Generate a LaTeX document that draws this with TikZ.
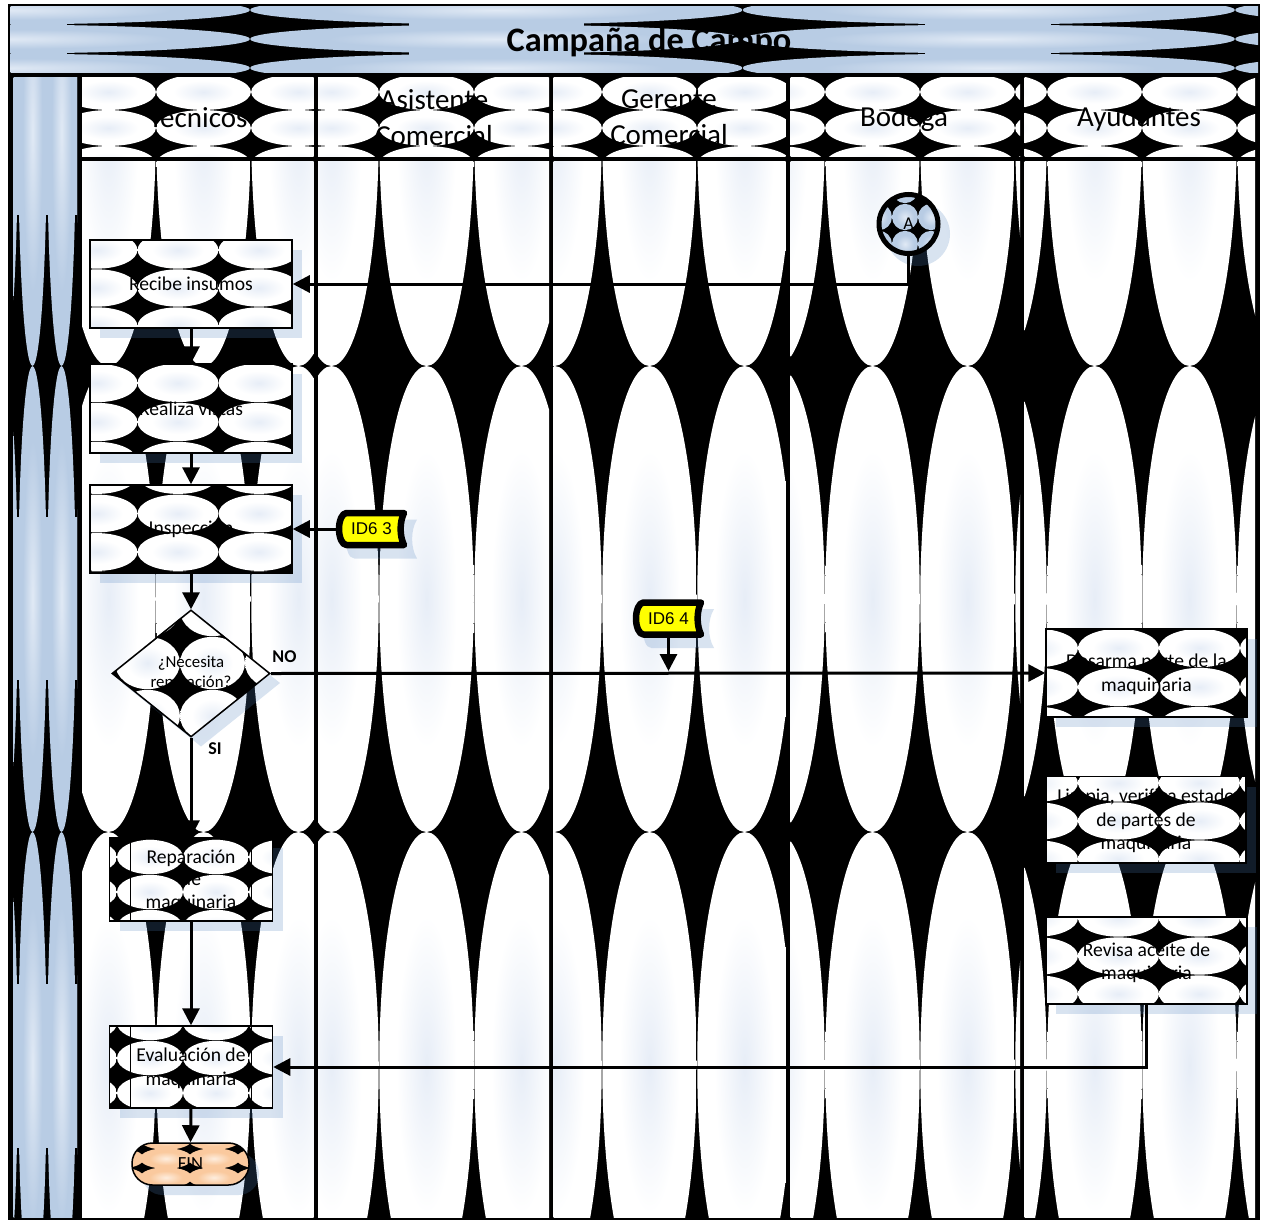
\documentclass[tikz,border=0pt]{standalone}
\usepackage{fontspec}
\setmainfont{Carlito}
\newfontfamily\tagfont{Liberation Sans}
\usetikzlibrary{arrows.meta,shapes.geometric}
\definecolor{bandblue}{HTML}{B8CCE4}
\definecolor{accentblue}{HTML}{4F81BD}
\definecolor{tagyellow}{HTML}{FFFF00}
\pgfdeclareradialshading{softblob}{\pgfpoint{0bp}{0bp}}{rgb(0bp)=(0.905,0.93,0.968); rgb(16bp)=(1,1,1); rgb(50bp)=(1,1,1)}
\pgfdeclareradialshading{blueblob}{\pgfpoint{0bp}{0bp}}{rgb(0bp)=(0.88,0.915,0.96); rgb(17bp)=(0.722,0.8,0.894); rgb(50bp)=(0.722,0.8,0.894)}
\pgfdeclareradialshading{orangeblob}{\pgfpoint{0bp}{0bp}}{rgb(0bp)=(0.995,0.93,0.87); rgb(16bp)=(0.98,0.79,0.62); rgb(50bp)=(0.98,0.79,0.62)}
\def\tgx{0.05}\def\tgy{0.35}
\newcommand\tiles[7]{%
  \pgfmathsetmacro\tlrx{#3/2-\tgx}\pgfmathsetmacro\tlry{#4/2-\tgy}%
  \foreach \i in {0,...,#5}{\foreach \j in {0,...,#6}{%
    \shade[shading=#7] ({#1+\i*#3},{#2+\j*#4}) ellipse [x radius=\tlrx pt,y radius=\tlry pt];}}}
% x1 y1 x2 y2 | first centre x, y, dx, dy
\newcommand\boxtile[8]{%
  \fill[shadowfill] ({#1+10},{#2+10}) rectangle ({#3+10},{#4+10});
  \begin{scope}\clip (#1,#2) rectangle (#3,#4);
    \fill[black] (#1,#2) rectangle (#3,#4);
    \tiles{#5}{#6}{#7}{#8}{3}{3}{softblob}
  \end{scope}}
\newcommand\lanetile[4]{% x1 x2 first-centre nx
  \begin{scope}\clip (#1,78) rectangle (#2,156);
    \def\tgx{0.1}\def\tgy{0.05}
    \tiles{#3}{92}{95}{36}{#4}{2}{softblob}
  \end{scope}
  \begin{scope}\clip (#1,161) rectangle (#2,1217);
    \def\tgx{0.25}\def\tgy{0}
    \tiles{#3}{133}{95}{466}{#4}{2}{softblob}
  \end{scope}}
\newcommand\tagshape[2]{% centre
  \fill[shadowfill,shift={(#1+10,#2+10)}] (-27,-19.5) .. controls (-33,-19.5) and (-35.5,-10) .. (-35.5,0) .. controls (-35.5,10) and (-33,19.5) .. (-27,19.5) -- (35.5,19.5) .. controls (29,9) and (29,-9) .. (35.5,-19.5) -- cycle;
  \draw[line width=6.5pt,fill=tagyellow,line join=round,shift={(#1,#2)}] (-25,-16) .. controls (-29.5,-16) and (-32.5,-8) .. (-32.5,0) .. controls (-32.5,8) and (-29.5,16) .. (-25,16) -- (32.5,16) .. controls (28,7) and (28,-7) .. (32.5,-16) -- cycle;}
\newcommand\topstrut[1]{\rule{0pt}{#1pt}}
\tikzset{
  shadowfill/.style={fill=accentblue,fill opacity=0.22},
  boxtext/.style={font=\fontsize{19.6}{23.5}\selectfont,align=center,inner sep=0pt,text=black},
  flowbox/.style={boxtext,draw=black,line width=1.5pt,shape=rectangle},
  lanehead/.style={font=\fontsize{29}{36}\selectfont,align=center,inner sep=0pt},
  edgelabel/.style={font=\fontsize{18}{20}\bfseries\selectfont,inner sep=0pt},
  tagtext/.style={font=\tagfont\fontsize{17}{20}\selectfont,inner sep=0pt,minimum width=68pt,minimum height=36pt},
  flow/.style={line width=3pt,-{Triangle[length=17pt,width=17pt]}}
}
\begin{document}
\begin{tikzpicture}[x=1pt,y=-1pt]
\useasboundingbox (0,0) rectangle (1266,1220);
\fill[white] (0,0) rectangle (1266,1220);
\fill[black] (8,4) rectangle (1260,1220);
% title band
\begin{scope}\clip (10.5,7) rectangle (1258,73);
  \def\tgx{0.1}\def\tgy{0.15}
  \tiles{3.75}{10}{492.5}{29}{3}{2}{blueblob}
  \fill[bandblue] (-10,22) rectangle (67,27);
  \fill[bandblue] (-10,51) rectangle (67,56);
  \fill[bandblue] (409,22) rectangle (584,27);
  \fill[bandblue] (409,51) rectangle (584,56);
  \fill[bandblue] (925,22) rectangle (1051,27);
  \fill[bandblue] (925,51) rectangle (1051,56);
\end{scope}
\node[font=\fontsize{34.3}{40}\bfseries\selectfont,inner sep=0pt] (title) at (649,42.5) {Campaña de Campo};
% left vertical band
\begin{scope}\clip (13.5,78) rectangle (77,1217);
  \def\tgx{0.15}\def\tgy{0.1}
  \tiles{3.5}{133}{29}{466}{3}{2}{blueblob}
  \foreach \sx in {18,47,76}{
    \fill[bandblue] (\sx-3,70) rectangle (\sx+3,215);
    \fill[bandblue] (\sx-3,517) rectangle (\sx+3,680);
    \fill[bandblue] (\sx-3,984) rectangle (\sx+3,1148);
  }
\end{scope}
% lanes
\lanetile{82}{313.5}{108.5}{2}
\lanetile{318}{549}{331.5}{2}
\lanetile{553.5}{785.5}{554.5}{2}
\lanetile{790.5}{1020}{777.5}{3}
\lanetile{1024.5}{1255}{999.5}{3}
\node[lanehead] (hTecnicos) at (198,118) {Tecnicos};
\node[lanehead] (hAsistente) at (434,117.5) {Asistente\\Comercial};
\node[lanehead] (hGerente) at (669,117.5) {Gerente\\Comercial};
\node[lanehead] (hBodega) at (904,119) {Bodega};
\node[lanehead] (hAyudantes) at (1139,119) {Ayudantes};
% connector A start
\fill[shadowfill] (918,234) circle (32);
\begin{scope}\clip (908.5,224) circle (29.5);
  \fill[black] (870,190) rectangle (950,260);
  \tiles{879}{190}{26}{27}{2}{2}{blueblob}
\end{scope}
\node[circle,draw=black,line width=5pt,minimum size=59pt,inner sep=0pt,font=\fontsize{18}{20}\selectfont] (conA) at (908.5,224) {A};
% Recibe
\boxtile{90}{240}{292}{328}{97}{250}{81}{38}
\node[flowbox,minimum width=202pt,minimum height=88pt] (recibe) at (191,284) {Recibe insumos};
% Realiza
\boxtile{90}{364}{292}{453}{97}{344}{81}{39}
\node[flowbox,minimum width=202pt,minimum height=89pt] (realiza) at (191,408.5) {Realiza vistas};
% Inspeccion
\boxtile{90}{485}{292}{573}{97}{475}{81}{38.5}
\node[flowbox,minimum width=202pt,minimum height=88pt] (inspeccion) at (191,529) {Inspección};
% Tag 3
\tagshape{371.5}{529}
\node[tagtext] (id63) at (371.5,529) {ID6 3};
% Tag 4
\tagshape{668.5}{618.5}
\node[tagtext] (id64) at (668.5,618.5) {ID6 4};
% Diamond
\fill[shadowfill] (122,683) -- (201,619.5) -- (280,683) -- (201,746.5) -- cycle;
\begin{scope}\clip (112,673) -- (191,609.5) -- (270,673) -- (191,736.5) -- cycle;
  \fill[black] (110,605) rectangle (272,740);
  \tiles{82.5}{610}{65}{53}{3}{2}{softblob}
\end{scope}
\node[diamond,draw=black,line width=1.5pt,minimum width=158pt,minimum height=127pt,inner sep=0pt,aspect=1,align=center,font=\fontsize{16.8}{20}\selectfont] (decision) at (191,673.5) {¿Necesita\\reparación?};
\node[edgelabel] (labelNO) at (284.5,656.5) {NO};
\node[edgelabel] (labelSI) at (215,748.5) {SI};
% Desarma
\boxtile{1046}{629}{1247}{717}{1037.5}{609}{81}{39}
\node[flowbox,minimum width=201pt,minimum height=88pt] (desarma) at (1146.5,673) {\topstrut{16}Desarma parte de la\\maquinaria};
% Limpia
\boxtile{1046}{776.5}{1246}{863}{1037.5}{783}{81}{38}
\node[flowbox,minimum width=200pt,minimum height=86.5pt] (limpia) at (1146,819.75) {\topstrut{16}Limpia, verifica estado\\de partes de\\maquinaria};
% Revisa
\boxtile{1046}{917}{1247}{1004}{1037.5}{918}{81}{38}
\node[flowbox,minimum width=201pt,minimum height=87pt] (revisa) at (1146.5,960.5) {\topstrut{18}Revisa aceite de\\maquinaria};
% Reparacion
\boxtile{109.5}{838}{272.5}{921}{84}{822}{66}{35}
\draw[line width=1.3pt] (130.5,838) -- (130.5,921) (251.5,838) -- (251.5,921);
\node[flowbox,minimum width=163pt,minimum height=83pt,font=\fontsize{19.6}{22.7}\selectfont] (reparacion) at (191,879.5) {\topstrut{16}Reparación\\de\\maquinaria};
% Evaluacion
\boxtile{109.5}{1026}{272.5}{1108}{84}{1023}{66}{35}
\draw[line width=1.3pt] (130.5,1026) -- (130.5,1108) (251.5,1026) -- (251.5,1108);
\node[flowbox,minimum width=163pt,minimum height=82pt] (evaluacion) at (191,1067) {\topstrut{16}Evaluación de\\maquinaria};
% FIN
\fill[shadowfill,rounded corners=20.5pt] (142,1153) rectangle (259,1195);
\begin{scope}\clip[rounded corners=20.5pt] (132,1143) rectangle (249,1185);
  \fill[black] (130,1140) rectangle (251,1190);
  \def\tgx{-2}\def\tgy{-0.8}
  \tiles{118}{1139.5}{48}{19}{3}{3}{orangeblob}
\end{scope}
\node[draw=black,line width=1.5pt,rounded corners=20.5pt,minimum width=117pt,minimum height=42pt,inner sep=0pt,font=\fontsize{18.5}{20}\selectfont] (fin) at (190.5,1164) {FIN};
% connectors
\coordinate (joinNO) at (668.5,671);
\draw[flow] (conA.south) |- (recibe.east);
\draw[flow] (recibe.south) -- (realiza.north);
\draw[flow] (realiza.south) -- (inspeccion.north);
\draw[flow] (inspeccion.south) -- (decision.north);
\draw[flow] (id63.west) -- (inspeccion.east);
\draw[flow] (decision.east) -- (desarma.west);
\draw[flow] (id64.south) -- (joinNO);
\draw[flow] (decision.south) -- (reparacion.north);
\draw[flow] (reparacion.south) -- (evaluacion.north);
\draw[flow] (evaluacion.south) -- (fin.north);
\draw[flow] (revisa.south) |- (evaluacion.east);
\end{tikzpicture}
\end{document}
